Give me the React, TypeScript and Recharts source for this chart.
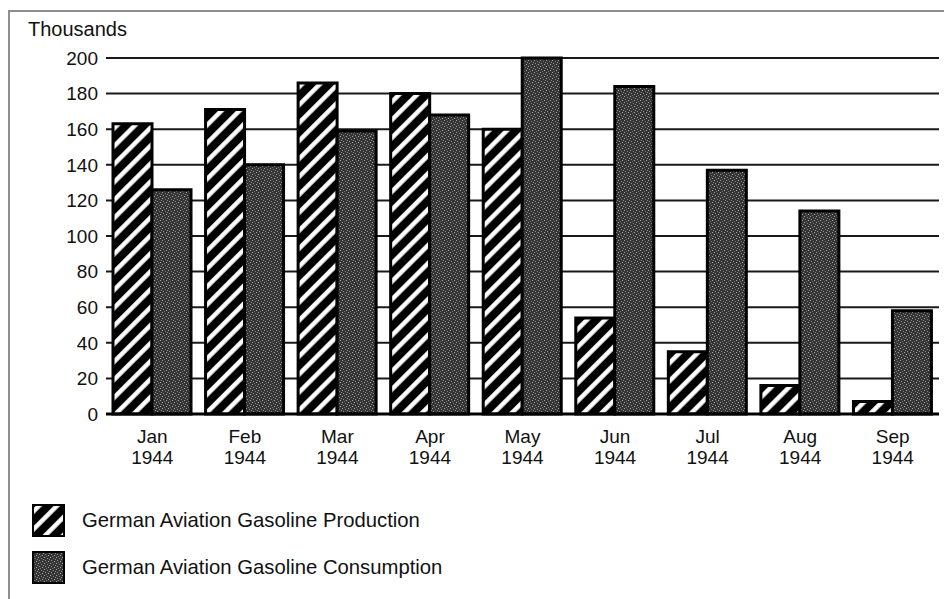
import React from 'react';
import { BarChart, Bar, XAxis, YAxis, CartesianGrid, Legend } from 'recharts';

const months = ['Jan', 'Feb', 'Mar', 'Apr', 'May', 'Jun', 'Jul', 'Aug', 'Sep'];
const years = ['1944', '1944', '1944', '1944', '1944', '1944', '1944', '1944', '1944'];
const production = [163, 171, 186, 180, 160, 54, 35, 16, 7];
const consumption = [126, 140, 159, 168, 200, 184, 137, 114, 58];
const yTicks = [0, 20, 40, 60, 80, 100, 120, 140, 160, 180, 200];
const seriesNames = ['German Aviation Gasoline Production', 'German Aviation Gasoline Consumption'];

const data = months.map((m, i) => ({
  month: m,
  year: years[i],
  production: production[i],
  consumption: consumption[i],
}));

const FONT = '"Liberation Sans", Arial, Helvetica, sans-serif';

const XTick = (props: any) => {
  const { x, y, payload } = props;
  const idx = payload.index ?? months.indexOf(payload.value);
  return (
    <g>
      <text x={x} y={y + 29} textAnchor="middle" fontSize={19} fontFamily={FONT} fill="#111">
        {payload.value}
      </text>
      <text x={x} y={y + 50} textAnchor="middle" fontSize={19} fontFamily={FONT} fill="#111">
        {years[idx] ?? '1944'}
      </text>
    </g>
  );
};

const YTitle = (props: any) => {
  const vb = props.viewBox || { x: 46, y: 58 };
  return (
    <text x={vb.x - 18} y={vb.y - 22} fontSize={20} fontFamily={FONT} fill="#111">
      Thousands
    </text>
  );
};

const Patterns = () => (
  <defs>
    <pattern id="hatch" patternUnits="userSpaceOnUse" width="12.7" height="12.7" patternTransform="rotate(45)">
      <rect x="0" y="0" width="12.7" height="12.7" fill="#000" />
      <rect x="4" y="0" width="4.5" height="12.7" fill="#fff" />
    </pattern>
    <pattern id="stipple" patternUnits="userSpaceOnUse" width="6" height="6">
      <rect x="0" y="0" width="6" height="6" fill="#353535" />
      <rect x="0" y="0" width="1" height="1" fill="#a0a0a0" />
      <rect x="3" y="1" width="1" height="1" fill="#7a7a7a" />
      <rect x="1" y="3" width="1" height="1" fill="#8c8c8c" />
      <rect x="4" y="4" width="1" height="1" fill="#a5a5a5" />
      <rect x="2" y="5" width="1" height="1" fill="#6e6e6e" />
      <rect x="5" y="2" width="1" height="1" fill="#888" />
    </pattern>
  </defs>
);

const LegendContent = () => (
  <div style={{ position: 'relative', width: 944, height: 110, fontFamily: FONT }}>
    {[0, 1].map((i) => (
      <div key={i} style={{ position: 'absolute', left: 32, top: i === 0 ? 14 : 61, height: 33, display: 'flex', alignItems: 'center' }}>
        <svg width={33} height={33} style={{ display: 'block' }}>
          <Patterns />
          <rect x={1} y={1} width={31} height={31} fill={i === 0 ? 'url(#hatch)' : 'url(#stipple)'} stroke="#000" strokeWidth={2} />
        </svg>
        <span style={{ marginLeft: 17, fontSize: 20.3, color: '#111', whiteSpace: 'nowrap' }}>{seriesNames[i]}</span>
      </div>
    ))}
  </div>
);

export default function App() {
  return (
    <>
      <div
        style={{
          position: 'absolute',
          left: 8,
          top: 10,
          width: 936,
          height: 589,
          boxSizing: 'border-box',
          borderLeft: '2px solid #8e8e8e',
          borderTop: '2px solid #8e8e8e',
        }}
      />
      <div style={{ position: 'absolute', left: 0, top: 0, width: 944, height: 599 }}>
        <BarChart
          width={944}
          height={599}
          data={data}
          margin={{ top: 58, right: 5, bottom: 0, left: 46 }}
          barGap={0}
          barCategoryGap={7}
        >
          <Patterns />
          <CartesianGrid horizontal vertical={false} stroke="#000" strokeWidth={2} strokeOpacity={0.9} />
          <XAxis
            dataKey="month"
            height={185}
            tickLine={false}
            tickSize={0}
            tickMargin={0}
            axisLine={{ stroke: '#000', strokeWidth: 3 }}
            tick={<XTick />}
            interval={0}
          />
          <YAxis
            width={60}
            domain={[0, 200]}
            ticks={yTicks}
            axisLine={false}
            tickLine={false}
            tick={{ fontSize: 19, fontFamily: FONT, fill: '#111' }}
            label={<YTitle />}
          />
          <Legend
            verticalAlign="middle"
            layout="horizontal"
            wrapperStyle={{ left: 0, top: 490, width: 944, height: 110 }}
            content={<LegendContent />}
          />
          <Bar dataKey="production" name={seriesNames[0]} fill="url(#hatch)" stroke="#000" strokeWidth={3} isAnimationActive={false} />
          <Bar dataKey="consumption" name={seriesNames[1]} fill="url(#stipple)" stroke="#000" strokeWidth={3} isAnimationActive={false} />
        </BarChart>
      </div>
    </>
  );
}
